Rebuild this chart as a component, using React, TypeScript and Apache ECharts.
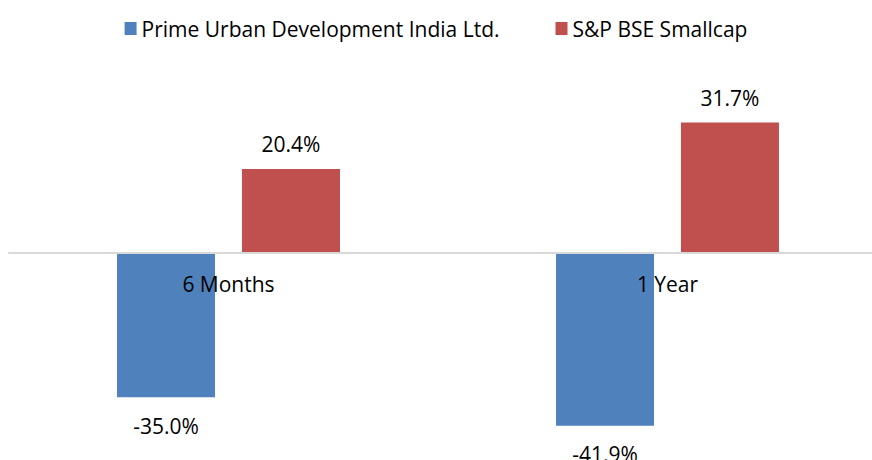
import React, { useEffect, useRef } from "react";
import * as echarts from "echarts";

const categories = ["6 Months", "1 Year"];
const seriesNames = ["Prime Urban Development India Ltd.", "S&P BSE Smallcap"];
const primeValues = [-35.0, -41.9];
const bseValues = [20.4, 31.7];

export default function App() {
  const ref = useRef<HTMLDivElement>(null);
  useEffect(() => {
    if (!ref.current) return;
    const chart = echarts.init(ref.current, null, { renderer: "svg" });
    const font = "'Open Sans', 'Noto Sans', sans-serif";
    const fs = 21;
    chart.setOption({
      animation: false,
      textStyle: { fontFamily: font },
      legend: {
        data: seriesNames,
        top: 13,
        left: "center",
        itemWidth: 12,
        itemHeight: 13,
        itemGap: 56,
        icon: "rect",
        textStyle: { fontSize: fs, color: "#000", fontFamily: font },
      },
      grid: {
        left: 9,
        right: -15,
        top: 88.2,
        height: 370.8,
        containLabel: false,
        outerBoundsMode: "none",
      },
      xAxis: {
        type: "category",
        data: categories,
        position: "bottom",
        offset: -206,
        z: 5,
        axisLine: { onZero: false, lineStyle: { color: "#d9d9d9", width: 2 } },
        axisTick: { show: false },
        axisLabel: { color: "#000", fontSize: fs, margin: 20, fontFamily: font },
      },
      yAxis: {
        type: "value",
        min: -50,
        max: 40,
        show: false,
        splitLine: { show: false },
      },
      series: [
        {
          name: seriesNames[0],
          type: "bar",
          data: primeValues,
          barWidth: 98,
          barGap: "27.5%",
          itemStyle: { color: "#4f81bd" },
          label: {
            show: true,
            position: "bottom",
            distance: 18,
            color: "#000",
            fontSize: fs,
            fontFamily: font,
            formatter: (p: any) => p.value.toFixed(1) + "%",
          },
        },
        {
          name: seriesNames[1],
          type: "bar",
          data: bseValues,
          barWidth: 98,
          barGap: "27.5%",
          itemStyle: { color: "#c0504d" },
          label: {
            show: true,
            position: "top",
            distance: 14,
            color: "#000",
            fontSize: fs,
            fontFamily: font,
            formatter: (p: any) => p.value.toFixed(1) + "%",
          },
        },
      ],
    });
    return () => chart.dispose();
  }, []);
  return (
    <div
      ref={ref}
      style={{ position: "fixed", left: 0, top: 0, width: 872, height: 460, background: "#fff" }}
    />
  );
}
